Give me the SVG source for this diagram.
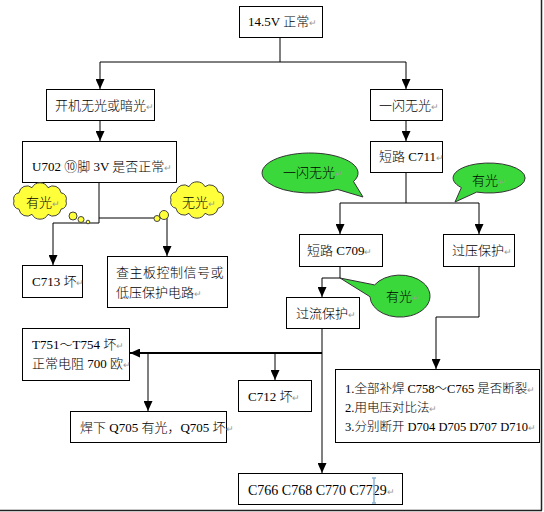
<svg xmlns="http://www.w3.org/2000/svg" width="544" height="512" viewBox="0 0 544 512">
<style>
.box{fill:#fff;stroke:#000;stroke-width:1}
.t{font-family:"Liberation Serif","Noto Sans CJK SC",serif;font-size:13px;font-weight:300;fill:#000}
.r{fill:#999;font-size:9px;font-family:"DejaVu Sans",sans-serif}
.ln{fill:none;stroke:#000;stroke-width:1}
.thick{fill:none;stroke:#000;stroke-width:2}
.cloud{fill:#FFFF3A;stroke:#444;stroke-width:1}
.bub{fill:#3BD83B;stroke:#333;stroke-width:1}
.s125{font-size:12.5px}
.s14{font-size:14px}
</style>
<defs>
<marker id="ah" markerUnits="userSpaceOnUse" markerWidth="10" markerHeight="9" refX="10" refY="4.5" orient="auto">
<path d="M0,0 L10,4.5 L0,9 z" fill="#000"/>
</marker>
<path id="cloudShape" d="M26,0 A6,6 0 0 1 21,8.2 A8,8 0 0 1 8,13.3 A9,9 0 0 1 -8,13.3 A8,8 0 0 1 -21,8.2 A6,6 0 0 1 -26,0 A6,6 0 0 1 -21,-8.2 A8,8 0 0 1 -8,-13.3 A9,9 0 0 1 8,-13.3 A8,8 0 0 1 21,-8.2 A6,6 0 0 1 26,0 Z"/>
</defs>
<rect width="544" height="512" fill="#fff"/>
<path d="M541.5,0 V510.5 M0,510.5 H542" fill="none" stroke="#222" stroke-width="1.5"/>

<g id="connectors">
<path class="ln" d="M280,37 V62 M100,62 H406"/>
<path class="ln" d="M100,62 V89" marker-end="url(#ah)"/>
<path class="ln" d="M406,62 V89" marker-end="url(#ah)"/>
<path class="ln" d="M100,120 V141" marker-end="url(#ah)"/>
<path class="ln" d="M406,120 V141" marker-end="url(#ah)"/>
<path class="ln" d="M99,182 V223 H53 V265" marker-end="url(#ah)"/>
<path class="ln" d="M99,218 H167 V256" marker-end="url(#ah)"/>
<path class="ln" d="M406,172 V203 M340,203 H479"/>
<path class="ln" d="M340,203 V234" marker-end="url(#ah)"/>
<path class="ln" d="M479,203 V234" marker-end="url(#ah)"/>
<path class="ln" d="M340,266 V278 H322 V297" marker-end="url(#ah)"/>
<path class="ln" d="M322,328 V473" marker-end="url(#ah)"/>
<path class="thick" d="M322,353 H130" marker-end="url(#ah)"/>
<path class="ln" d="M148,353 V411" marker-end="url(#ah)"/>
<path class="ln" d="M275,353 V380" marker-end="url(#ah)"/>
<path class="ln" d="M479,266 V317 H436 V369" marker-end="url(#ah)"/>
</g>

<g id="n_top"><rect class="box" x="239.5" y="6.5" width="83" height="31"/><text class="t" x="248" y="26">14.5V 正常<tspan class="r">↵</tspan></text></g>
<g id="n_left1"><rect class="box" x="46.5" y="89.5" width="108" height="31"/><text class="t" x="55" y="110">开机无光或暗光<tspan class="r">↵</tspan></text></g>
<g id="n_u702"><rect class="box" x="22.5" y="141.5" width="154" height="41"/><text class="t" x="32" y="171">U702  ⑩脚 3V 是否正常<tspan class="r">↵</tspan></text></g>
<g id="n_right1"><rect class="box" x="370.5" y="89.5" width="72" height="31"/><text class="t" x="379" y="110">一闪无光<tspan class="r">↵</tspan></text></g>
<g id="n_c711"><rect class="box" x="370.5" y="141.5" width="72" height="31"/><text class="t" x="379" y="161">短路 C711<tspan class="r">↵</tspan></text></g>

<g id="cloud_yes"><use href="#cloudShape" class="cloud" transform="translate(40,201)"/><circle class="cloud" cx="73" cy="216" r="4"/><circle class="cloud" cx="81" cy="219.5" r="3"/><circle class="cloud" cx="88" cy="222" r="1.8"/><text class="t" x="26" y="207">有光<tspan class="r">↵</tspan></text></g>
<g id="cloud_no"><use href="#cloudShape" class="cloud" transform="translate(197,200)"/><circle class="cloud" cx="164" cy="215" r="4.5"/><circle class="cloud" cx="157" cy="218.5" r="3"/><text class="t" x="182" y="207">无光<tspan class="r">↵</tspan></text></g>

<g id="n_c713"><rect class="box" x="22.5" y="265.5" width="60" height="32"/><text class="t" x="32" y="286">C713 坏<tspan class="r">↵</tspan></text></g>
<g id="n_check"><rect class="box" x="107.5" y="256.5" width="120" height="51"/><text class="t" x="116" y="277" letter-spacing="0.5">查主板控制信号或</text><text class="t" x="116" y="297">低压保护电路<tspan class="r">↵</tspan></text></g>

<g id="bub_flash"><path class="bub" d="M353.5,181.5 L363,197 L337.5,189.4 A48,20 0 1 1 353.5,181.5 Z"/><text class="t" x="283" y="177">一闪无光<tspan class="r">↵</tspan></text></g>
<g id="bub_yes1"><path class="bub" d="M461.4,187.6 L455,202 L476.7,192.1 A36,15 0 1 0 461.4,187.6 Z"/><text class="t" x="472" y="185">有光<tspan class="r">↵</tspan></text></g>

<g id="n_c709"><rect class="box" x="299.5" y="234.5" width="83" height="32"/><text class="t" x="307" y="255">短路 C709<tspan class="r">↵</tspan></text></g>
<g id="n_ovp"><rect class="box" x="443.5" y="234.5" width="71" height="32"/><text class="t" x="452" y="255">过压保护<tspan class="r">↵</tspan></text></g>
<g id="bub_yes2"><path class="bub" d="M374.6,284.9 L340,278 L370,296.7 A30,21 0 1 0 374.6,284.9 Z"/><text class="t" x="386" y="301">有光<tspan class="r">↵</tspan></text></g>
<g id="n_ocp"><rect class="box" x="286.5" y="297.5" width="73" height="31"/><text class="t" x="296" y="318">过流保护<tspan class="r">↵</tspan></text></g>

<g id="n_t751"><rect class="box" x="22.5" y="328.5" width="107" height="52"/><text class="t" x="32" y="349">T751～T754 坏<tspan class="r">↵</tspan></text><text class="t" x="32" y="368">正常电阻 700 欧<tspan class="r">↵</tspan></text></g>
<g id="n_c712"><rect class="box" x="238.5" y="380.5" width="73" height="31"/><text class="t" x="248" y="401">C712 坏<tspan class="r">↵</tspan></text></g>
<g id="n_q705"><rect class="box" x="70.5" y="411.5" width="156" height="31"/><text class="t" x="80" y="432">焊下 Q705 有光，Q705 坏<tspan class="r">↵</tspan></text></g>
<g id="n_fix"><rect class="box" x="335.5" y="369.5" width="204" height="73"/><text class="t s125" x="345" y="393">1.全部补焊 C758～C765 是否断裂<tspan class="r">↵</tspan></text><text class="t s125" x="345" y="412">2.用电压对比法<tspan class="r">↵</tspan></text><text class="t s125" x="345" y="431">3.分别断开 D704 D705 D707 D710<tspan class="r">↵</tspan></text></g>
<g id="n_c766"><rect class="box" x="238.5" y="473.5" width="164" height="31"/><text class="t s14" x="248" y="495">C766 C768 C770 C7729<tspan class="r">↵</tspan></text><path d="M372,478 H376 M374,478 V503 M372,503 H376" stroke="#8ab4d6" stroke-width="1.5" fill="none"/></g>
</svg>
